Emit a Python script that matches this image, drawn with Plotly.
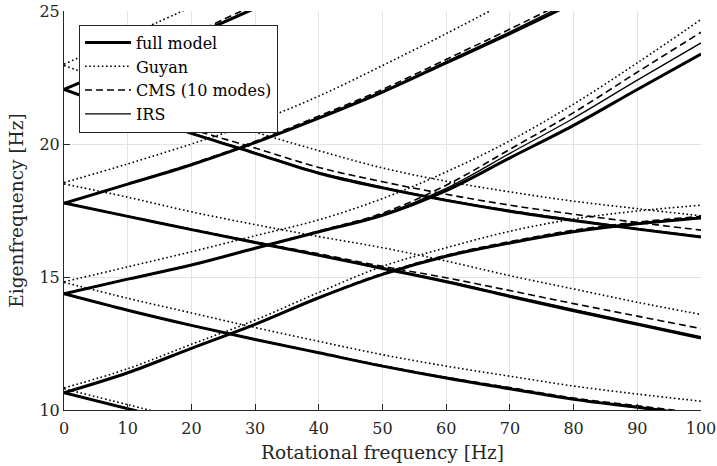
import plotly.graph_objects as go

# Rotational frequency grid [Hz]
rot = [0, 10, 20, 30, 40, 50, 60, 70, 80, 90, 100]

# ---- full model eigenfrequencies [Hz] (forward / backward branches) ----
full_a_fw = [10.65, 11.40, 12.32, 13.22, 14.22, 15.10, 15.78, 16.28, 16.70, 17.00, 17.22]
full_a_bw = [10.65, 10.05, 9.45, None, None, None, None, None, None, None, None]
full_c_fw = [14.37, 14.92, 15.45, 16.08, 16.70, 17.32, 18.25, 19.48, 20.70, 22.05, 23.38]
full_c_bw = [14.37, 13.75, 13.18, 12.65, 12.15, 11.65, 11.20, 10.80, 10.40, 10.10, 9.80]
full_b_fw = [17.77, 18.49, 19.22, 20.05, 20.97, 21.95, 23.05, 24.15, 25.30, None, None]
full_b_bw = [17.78, 17.28, 16.78, 16.30, 15.82, 15.32, 14.82, 14.27, 13.73, 13.22, 12.71]
full_d_fw = [22.05, 23.07, 24.05, 25.10, None, None, None, None, None, None, None]
full_d_bw = [22.05, 21.20, 20.40, 19.65, 18.90, 18.35, 17.88, 17.47, 17.12, 16.80, 16.50]

# ---- Guyan reduction ----
guyan_a_fw = [10.83, 11.55, 12.47, 13.38, 14.42, 15.40, 16.10, 16.72, 17.18, 17.48, 17.70]
guyan_a_bw = [10.80, 10.20, 9.60, None, None, None, None, None, None, None, None]
guyan_c_fw = [14.82, 15.38, 15.95, 16.55, 17.15, 17.95, 18.95, 20.12, 21.50, 23.05, 24.68]
guyan_c_bw = [14.80, 14.20, 13.65, 13.10, 12.58, 12.08, 11.65, 11.27, 10.90, 10.60, 10.33]
guyan_b_fw = [18.55, 19.25, 20.00, 20.82, 21.80, 22.95, 24.15, 25.40, None, None, None]
guyan_b_bw = [18.50, 18.00, 17.45, 16.97, 16.52, 16.10, 15.60, 15.05, 14.55, 14.05, 13.59]
guyan_d_fw = [23.00, 24.07, 25.15, None, None, None, None, None, None, None, None]
guyan_d_bw = [22.95, 22.10, 21.25, 20.45, 19.75, 19.10, 18.60, 18.20, 17.85, 17.57, 17.30]

# ---- CMS (10 modes) ----
cms_a_fw = [10.65, 11.40, 12.32, 13.22, 14.24, 15.13, 15.82, 16.33, 16.76, 17.06, 17.28]
cms_a_bw = [10.65, 10.05, 9.45, None, None, None, None, None, None, None, None]
cms_c_fw = [14.37, 14.92, 15.45, 16.09, 16.73, 17.40, 18.45, 19.80, 21.18, 22.70, 24.20]
cms_c_bw = [14.37, 13.75, 13.18, 12.66, 12.16, 11.67, 11.23, 10.84, 10.45, 10.16, 9.87]
cms_b_fw = [17.77, 18.50, 19.25, 20.10, 21.05, 22.05, 23.18, 24.32, 25.50, None, None]
cms_b_bw = [17.78, 17.29, 16.80, 16.32, 15.87, 15.40, 14.97, 14.49, 14.00, 13.53, 13.06]
cms_d_fw = [22.05, 23.10, 24.13, 25.24, None, None, None, None, None, None, None]
cms_d_bw = [22.05, 21.25, 20.55, 19.85, 19.12, 18.58, 18.11, 17.70, 17.36, 17.05, 16.76]

# ---- IRS ----
irs_a_fw = [10.65, 11.40, 12.32, 13.22, 14.23, 15.11, 15.80, 16.30, 16.72, 17.02, 17.24]
irs_a_bw = [10.65, 10.05, 9.45, None, None, None, None, None, None, None, None]
irs_c_fw = [14.37, 14.92, 15.45, 16.08, 16.71, 17.35, 18.33, 19.65, 20.97, 22.40, 23.80]
irs_c_bw = [14.37, 13.75, 13.18, 12.65, 12.16, 11.66, 11.21, 10.81, 10.42, 10.12, 9.82]
irs_b_fw = [17.77, 18.49, 19.23, 20.07, 21.00, 21.99, 23.10, 24.22, 25.40, None, None]
irs_b_bw = [17.78, 17.28, 16.79, 16.31, 15.83, 15.34, 14.85, 14.31, 13.78, 13.27, 12.76]
irs_d_fw = [22.05, 23.08, 24.07, 25.13, None, None, None, None, None, None, None]
irs_d_bw = [22.05, 21.21, 20.42, 19.68, 18.93, 18.38, 17.91, 17.50, 17.15, 16.83, 16.53]

x_ticks = [0, 10, 20, 30, 40, 50, 60, 70, 80, 90, 100]
y_ticks = [10, 15, 20, 25]

methods = [
    ("full model", [full_a_fw, full_a_bw, full_c_fw, full_c_bw, full_b_fw, full_b_bw, full_d_fw, full_d_bw],
     dict(color="black", width=3.0, dash="solid")),
    ("Guyan", [guyan_a_fw, guyan_a_bw, guyan_c_fw, guyan_c_bw, guyan_b_fw, guyan_b_bw, guyan_d_fw, guyan_d_bw],
     dict(color="black", width=1.6, dash="1.6px,2.6px")),
    ("CMS (10 modes)", [cms_a_fw, cms_a_bw, cms_c_fw, cms_c_bw, cms_b_fw, cms_b_bw, cms_d_fw, cms_d_bw],
     dict(color="black", width=1.6, dash="7px,4px")),
    ("IRS", [irs_a_fw, irs_a_bw, irs_c_fw, irs_c_bw, irs_b_fw, irs_b_bw, irs_d_fw, irs_d_bw],
     dict(color="black", width=1.3, dash="solid")),
]

FONT = "DejaVu Serif"
TXT = "#262626"

fig = go.Figure()
for name, branches, style in methods:
    for i, ys in enumerate(branches):
        fig.add_trace(go.Scatter(
            x=rot, y=ys, mode="lines", name=name, legendgroup=name,
            showlegend=(i == 0), connectgaps=False,
            line=dict(shape="spline", smoothing=1.0, **style),
        ))

axis_common = dict(
    showgrid=True, gridcolor="#e3e3e3", gridwidth=1,
    showline=True, linecolor=TXT, linewidth=1,
    ticks="inside", ticklen=6, tickcolor=TXT, tickwidth=1,
    zeroline=False, mirror=False,
    tickfont=dict(family=FONT, size=16, color=TXT),
)

fig.update_layout(
    width=717, height=466,
    margin=dict(l=64, r=16, t=11, b=56, autoexpand=False),
    paper_bgcolor="white", plot_bgcolor="white",
    font=dict(family=FONT, color=TXT),
    xaxis=dict(range=[0, 100], tickvals=x_ticks, automargin=False, ticklabelstandoff=4,
               title=dict(text="Rotational frequency [Hz]", font=dict(family=FONT, size=18.5, color=TXT), standoff=8),
               **axis_common),
    yaxis=dict(range=[10, 25], tickvals=y_ticks, automargin=False,
               title=dict(text="Eigenfrequency [Hz]", font=dict(family=FONT, size=18.5, color=TXT), standoff=10),
               **axis_common),
    legend=dict(x=0.0236, y=0.966, xanchor="left", yanchor="top",
                bgcolor="white", bordercolor=TXT, borderwidth=1,
                font=dict(family=FONT, size=16, color="black"),
                tracegroupgap=0, itemwidth=46),
    showlegend=True,
)

fig.write_html("out.html")
